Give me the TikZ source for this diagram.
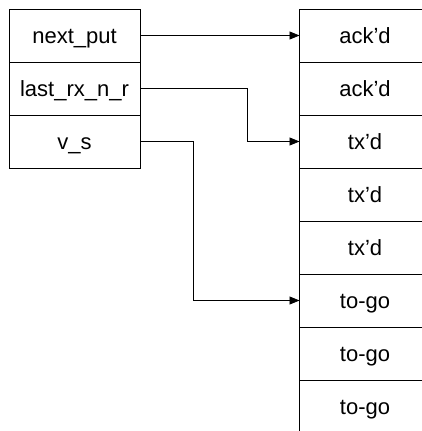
\documentclass[tikz,border=0pt]{standalone}
\usepackage{fontspec}
\setmainfont{Liberation Sans}
\usetikzlibrary{arrows.meta, positioning}

\begin{document}
\begin{tikzpicture}[
  font=\fontsize{22}{26}\selectfont,
  cell/.style={rectangle, draw, line width=1pt, minimum width=131pt, minimum height=53pt, inner sep=0pt, outer sep=0pt, text height=15pt, text depth=0pt},
  link/.style={line width=0.8pt, -{Triangle[length=10pt, width=8pt]}},
]
  \useasboundingbox (0pt,0pt) rectangle (421pt,-431pt);

  % Pointer variables
  \node[cell] (nextput) at (74.5pt,-35.5pt) {next\_put};
  \node[cell, below=0pt of nextput] (lastrx) {last\_rx\_n\_r};
  \node[cell, below=0pt of lastrx] (vs) {v\_s};

  % Send window slots
  \node[cell] (ack1) at (365pt,-35.5pt) {ack'd};
  \node[cell, below=0pt of ack1] (ack2) {ack'd};
  \node[cell, below=0pt of ack2] (tx1) {tx'd};
  \node[cell, below=0pt of tx1] (tx2) {tx'd};
  \node[cell, below=0pt of tx2] (tx3) {tx'd};
  \node[cell, below=0pt of tx3] (togo1) {to-go};
  \node[cell, below=0pt of togo1] (togo2) {to-go};
  \node[cell, below=0pt of togo2] (togo3) {to-go};

  \draw[link] (nextput.east) -- (ack1.west);
  \draw[link] (lastrx.east) -- ++(107pt,0) |- (tx1.west);
  \draw[link] (vs.east) -- ++(53pt,0) |- (togo1.west);
\end{tikzpicture}
\end{document}
